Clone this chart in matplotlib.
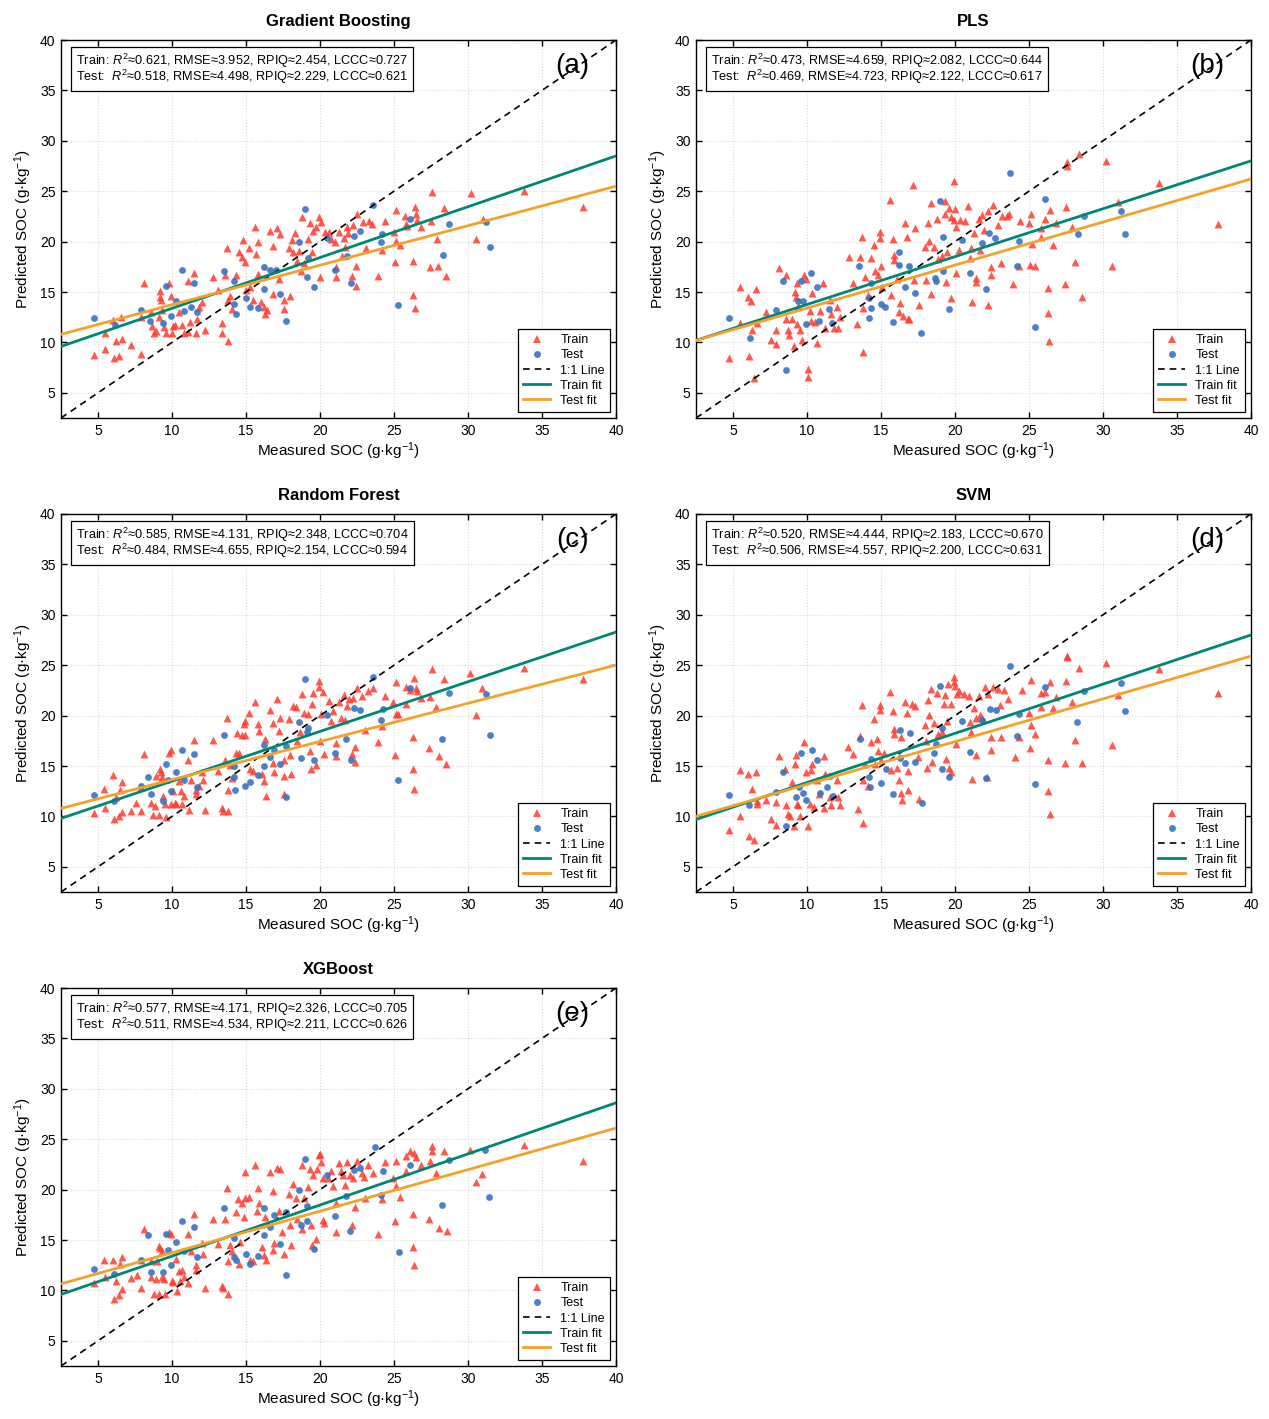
import numpy as np
import matplotlib
matplotlib.use("Agg")
import matplotlib.pyplot as plt
from matplotlib.lines import Line2D

plt.rcParams["font.family"] = ["Liberation Sans", "DejaVu Sans"]
plt.rcParams["mathtext.fontset"] = "custom"
plt.rcParams["mathtext.rm"] = "Liberation Sans"
plt.rcParams["mathtext.it"] = "Liberation Sans:italic"

# ---------------- data ----------------
titles = ["Gradient Boosting", "PLS", "Random Forest", "SVM", "XGBoost"]
tags = ["(a)", "(b)", "(c)", "(d)", "(e)"]

# R2, RMSE, RPIQ, LCCC
train_metrics = [(0.621, 3.952, 2.454, 0.727), (0.473, 4.659, 2.082, 0.644),
                 (0.585, 4.131, 2.348, 0.704), (0.520, 4.444, 2.183, 0.670),
                 (0.577, 4.171, 2.326, 0.705)]
test_metrics = [(0.518, 4.498, 2.229, 0.621), (0.469, 4.723, 2.122, 0.617),
                (0.484, 4.655, 2.154, 0.594), (0.506, 4.557, 2.200, 0.631),
                (0.511, 4.534, 2.211, 0.626)]

# fitted lines (slope, intercept)
train_fit = [(0.504, 8.34), (0.475, 9.01), (0.493, 8.57), (0.488, 8.48), (0.507, 8.33)]
test_fit = [(0.392, 9.82), (0.427, 9.13), (0.379, 9.85), (0.424, 8.94), (0.412, 9.62)]

gb_train = [(4.73,8.73),(5.45,10.97),(5.5,9.3),(6.03,12.2),(6.2,10.15),(6.1,8.5),(6.45,8.7),(6.53,12.5),(6.64,10.3),(7.2,9.7),
            (7.92,8.8),(8.1,15.9),(7.9,12.5),(8.55,13.0),(8.66,11.6),(8.8,10.9),(8.95,11.1),(9.1,12.5),(9.2,15.1),(9.2,14.5),
            (9.25,14.2),(9.35,13.2),(9.45,11.5),(9.6,10.9),(9.8,15.9),(9.9,14.6),(10.0,10.9),(10.08,11.6),(10.2,11.7),(10.5,13.0),
            (10.7,11.7),(10.8,10.9),(11.1,16.1),(11.1,11.0),(11.2,12.0),(11.5,16.9),(11.6,10.9),(11.7,12.3),(11.8,13.5),(12.0,14.0),
            (12.2,11.2),(12.8,16.5),(13.1,15.2),(13.4,11.9),(13.4,10.9),(13.6,16.7),(13.7,19.4),(13.8,14.2),(13.8,10.1),(13.9,14.6),
            (14.05,13.3),(14.35,16.7),(14.5,19.0),(14.7,18.5),(14.8,20.2),(14.9,18.0),(15.0,15.2),(15.2,19.4),(15.3,15.5),(15.45,14.2),
            (15.6,21.4),(15.7,18.8),(15.8,20.0),(15.8,16.8),(16.0,14.0),(16.2,13.5),(16.3,12.85),(16.4,13.2),(16.6,21.1),(16.8,19.6),
            (16.8,14.8),(17.1,21.3),(17.2,16.3),(17.3,20.8),(17.6,14.2),(17.6,13.3),(17.9,19.4),(18.0,14.6),(18.1,20.2),(18.2,19.0),
            (18.3,20.9),(18.45,18.1),(18.55,19.1),(18.7,17.1),(18.8,22.4),(18.9,17.9),(19.2,20.3),(19.3,21.8),(19.45,19.0),(19.5,21.1),
            (19.7,21.4),(19.9,22.4),(20.0,16.5),(20.1,21.9),(20.35,21.0),(20.6,21.0),(20.75,20.3),(21.0,20.0),(21.1,17.5),(21.1,16.5),
            (21.25,21.0),(21.5,18.6),(21.6,20.4),(21.7,19.5),(21.8,21.4),(21.9,20.9),(22.15,16.6),(22.25,21.6),(22.4,17.6),(22.4,15.6),
            (22.5,22.7),(22.9,21.9),(23.3,22.0),(23.1,19.4),(23.5,21.7),(23.95,16.6),(24.2,19.2),(24.4,22.0),(25.0,21.0),(25.05,18.0),
            (25.15,23.1),(25.15,20.1),(25.4,19.7),(25.75,22.5),(25.8,21.7),(25.9,21.5),(26.3,18.1),(26.4,23.4),(26.5,22.7),(26.55,22.1),
            (26.3,14.7),(26.4,13.4),(26.8,21.4),(27.4,17.5),(27.5,22.0),(27.6,24.9),(27.9,20.3),(28.0,17.6),(28.4,23.3),(28.5,16.6),
            (30.2,24.8),(30.55,20.3),(31.0,22.2),(33.8,25.0),(37.8,23.4)]
gb_test = [(4.73,12.43),(6.12,11.73),(7.92,13.2),(8.48,12.1),(9.38,11.9),(9.6,15.6),(9.9,12.6),(10.3,14.1),(10.7,17.2),(10.8,13.1),
           (11.3,13.5),(11.5,15.9),(11.7,13.0),(13.5,17.1),(14.2,16.1),(14.2,13.85),(14.3,12.8),(15.0,14.4),(15.3,13.5),(15.8,13.4),
           (16.2,17.5),(16.2,15.3),(16.6,17.2),(17.0,17.2),(17.3,14.8),(17.7,12.1),(19.0,23.2),(18.6,20.0),(19.2,18.4),(19.1,16.5),
           (19.6,15.5),(20.5,20.4),(21.0,17.2),(21.8,18.6),(22.1,15.9),(22.3,20.6),(22.7,21.1),(23.6,23.6),(24.2,20.8),(24.15,20.0),
           (25.3,13.7),(26.05,22.2),(28.3,18.7),(28.7,21.7),(31.2,21.9),(31.5,19.5)]

pls_train = [(4.75,8.5),(5.45,15.5),(5.5,11.9),(6.0,14.5),(6.2,14.1),(6.1,8.7),(6.25,11.2),(6.45,6.5),(6.55,15.3),(6.6,11.9),
             (7.25,13.0),(7.6,10.2),(7.9,9.8),(7.9,11.2),(8.1,17.4),(8.55,16.7),(8.6,12.3),(8.7,11.2),(8.8,10.7),(9.0,12.3),
             (9.1,9.6),(9.2,15.0),(9.25,14.5),(9.3,15.9),(9.3,11.8),(9.4,13.6),(9.55,11.2),(9.65,10.25),(9.8,16.7),(9.9,16.25),
             (10.05,7.4),(10.1,6.55),(10.2,13.15),(10.3,12.1),(10.35,14.9),(10.55,12.0),(10.7,9.9),(10.85,13.1),(11.1,15.9),(11.2,11.4),
             (11.55,14.2),(11.65,12.8),(11.8,11.4),(12.0,13.55),(12.1,11.4),(12.2,12.55),(12.85,18.5),(13.1,15.9),(13.4,11.8),(13.6,18.45),
             (13.7,20.5),(13.75,13.4),(13.8,9.05),(13.95,16.5),(14.1,14.7),(14.3,18.4),(14.5,19.65),(14.6,17.1),(14.8,16.65),(14.9,21.0),
             (14.9,20.4),(15.0,17.6),(15.1,15.5),(15.6,24.1),(15.7,14.7),(15.8,20.25),(15.85,18.65),(15.9,18.2),(16.1,16.25),(16.2,13.05),
             (16.3,13.9),(16.5,12.6),(16.65,21.8),(16.75,20.5),(16.8,12.3),(16.9,12.35),(17.15,25.65),(17.2,16.2),(17.3,21.35),(17.6,13.75),
             (17.95,19.5),(18.05,16.2),(18.2,21.8),(18.25,20.1),(18.4,23.85),(18.4,14.8),(18.6,19.5),(18.8,22.2),(18.85,18.3),(19.1,18.55),
             (19.3,22.7),(19.35,24.0),(19.4,16.0),(19.45,19.0),(19.6,23.35),(19.7,22.45),(19.75,14.4),(19.9,22.1),(19.95,26.0),(20.0,23.2),
             (20.1,21.4),(20.1,16.9),(20.25,19.2),(20.35,22.1),(20.65,22.05),(20.9,23.55),(21.0,18.4),(21.05,19.4),(21.15,14.0),(21.3,20.9),
             (21.4,16.35),(21.45,15.95),(21.6,22.2),(21.7,19.2),(21.85,22.6),(21.95,21.2),(22.2,23.0),(22.25,13.75),(22.45,17.5),(22.45,16.65),
             (22.55,23.6),(22.9,21.65),(23.2,22.55),(23.5,22.55),(23.65,22.7),(23.1,17.9),(23.95,15.75),(24.4,22.0),(24.3,17.6),(25.0,21.8),
             (25.05,17.7),(25.2,19.8),(25.4,17.6),(25.15,22.7),(25.8,20.5),(25.8,21.3),(26.05,22.2),(26.3,15.4),(26.3,12.9),(26.35,10.15),
             (26.4,23.1),(26.6,19.65),(26.8,21.8),(27.4,15.8),(27.5,23.4),(27.55,27.5),(27.6,27.85),(27.9,21.4),(28.1,18.0),(28.4,28.7),
             (28.6,14.5),(30.2,28.0),(30.6,17.6),(31.0,23.9),(33.8,25.8),(37.8,21.7)]
pls_test = [(4.73,12.43),(6.13,10.45),(7.9,13.2),(8.6,7.3),(8.4,16.05),(9.4,14.1),(9.7,14.15),(9.6,16.1),(9.9,11.8),(10.3,16.9),
            (10.7,15.5),(10.8,12.1),(11.5,13.3),(11.7,11.9),(13.5,17.6),(14.2,14.4),(14.2,12.4),(14.3,13.4),(14.3,15.9),(15.0,13.8),
            (15.3,13.5),(15.8,12.0),(16.2,19.0),(16.2,17.7),(16.6,15.5),(16.9,17.6),(17.3,14.9),(17.7,10.9),(18.65,16.4),(18.7,16.05),
            (19.0,24.0),(19.2,20.5),(19.2,17.1),(19.6,13.3),(20.5,20.2),(21.0,16.9),(21.8,19.85),(22.1,15.3),(22.3,20.9),(22.7,20.4),
            (23.7,26.8),(24.3,20.1),(24.2,17.6),(25.4,11.5),(26.1,24.2),(28.3,20.8),(28.7,22.5),(31.2,23.0),(31.5,20.8)]

rf_train = [(4.73,10.3),(5.4,12.7),(5.5,10.8),(6.0,14.1),(6.2,11.9),(6.1,9.75),(6.45,10.0),(6.6,13.45),(6.5,12.65),(6.6,10.4),
            (7.2,10.5),(7.6,11.3),(7.9,10.55),(7.9,12.9),(8.1,16.2),(8.6,11.3),(8.7,10.1),(8.85,11.0),(8.95,14.05),(9.1,10.1),
            (9.2,14.7),(9.25,14.4),(9.3,13.9),(9.4,12.05),(9.5,11.25),(9.6,9.9),(9.8,16.25),(9.9,16.6),(9.95,11.25),(10.1,12.55),
            (10.2,11.3),(10.3,11.25),(10.45,13.55),(10.6,12.55),(10.7,11.25),(10.8,12.05),(11.1,15.6),(11.15,10.6),(11.25,13.65),(11.5,17.6),
            (11.6,12.2),(11.65,12.6),(11.8,13.05),(12.0,14.4),(12.1,13.6),(12.2,10.6),(12.8,17.6),(13.1,14.55),(13.4,10.85),(13.45,10.5),
            (13.6,15.6),(13.7,19.75),(13.75,12.6),(13.8,10.5),(13.9,15.05),(14.05,13.8),(14.3,16.25),(14.4,18.25),(14.5,16.25),(14.7,18.1),
            (14.85,19.15),(14.9,19.5),(14.95,18.1),(15.2,20.3),(15.3,14.7),(15.5,14.55),(15.6,21.3),(15.8,19.2),(15.9,18.5),(16.05,14.2),
            (16.2,13.55),(16.25,17.7),(16.35,12.05),(16.6,20.6),(16.8,19.3),(16.8,15.25),(16.9,14.45),(17.1,21.65),(17.2,18.45),(17.3,19.8),
            (17.55,15.6),(17.6,14.05),(17.6,12.25),(17.9,19.65),(18.0,16.1),(18.05,14.2),(18.15,20.95),(18.35,20.85),(18.45,17.5),(18.65,18.4),
            (18.8,22.15),(18.9,20.25),(19.2,20.2),(19.3,16.5),(19.4,14.7),(19.45,21.2),(19.55,22.2),(19.7,15.05),(19.9,23.45),(19.95,22.8),
            (20.0,17.45),(20.1,20.2),(20.2,22.3),(20.25,16.2),(20.6,21.45),(20.75,19.5),(20.9,20.5),(21.05,15.95),(21.1,17.25),(21.25,21.3),
            (21.45,19.8),(21.6,22.0),(21.7,19.55),(21.8,20.95),(21.95,21.6),(22.15,16.2),(22.2,21.7),(22.35,16.9),(22.35,15.35),(22.5,22.7),
            (22.85,21.95),(23.25,22.45),(23.05,18.6),(23.55,22.7),(23.95,17.4),(24.2,19.0),(24.4,21.95),(24.95,21.3),(25.05,16.1),(25.15,23.3),
            (25.15,20.2),(25.3,20.15),(25.8,21.2),(25.8,22.8),(26.05,22.5),(26.3,17.85),(26.35,23.7),(26.5,22.7),(26.55,22.4),(26.3,14.75),
            (26.35,12.7),(26.8,21.75),(27.35,16.75),(27.45,21.8),(27.55,24.6),(27.85,20.9),(28.05,16.0),(28.35,23.6),(28.5,15.15),(30.15,24.2),
            (30.55,20.1),(30.95,22.7),(33.75,24.7),(37.8,23.65)]
rf_test = [(4.73,12.1),(6.1,11.5),(7.9,13.0),(8.4,13.9),(8.6,12.2),(9.4,11.5),(9.6,15.2),(9.7,13.65),(9.9,12.55),(10.3,14.4),
           (10.7,16.6),(10.8,13.6),(11.5,16.2),(11.7,12.9),(13.5,18.1),(14.2,15.0),(14.2,13.9),(14.25,12.6),(14.95,13.05),(15.3,13.4),
           (15.8,14.15),(16.2,17.1),(16.2,15.0),(16.6,15.9),(16.9,16.6),(17.3,15.2),(17.7,11.9),(17.7,17.0),(18.6,19.4),(18.7,15.8),
           (19.0,23.65),(19.1,18.4),(19.2,18.8),(19.6,15.55),(20.5,20.05),(21.0,16.25),(21.75,17.7),(22.1,15.55),(22.3,20.8),(22.7,20.6),
           (23.6,23.85),(24.25,20.7),(24.1,19.55),(25.3,13.6),(26.05,22.7),(28.25,17.7),(28.7,22.2),(31.2,22.1),(31.5,18.1)]

svm_train = [(4.75,8.7),(5.45,14.6),(5.5,10.0),(6.0,14.2),(6.1,8.1),(6.25,12.75),(6.45,7.7),(6.55,14.4),(6.65,11.25),(6.6,11.5),
             (7.25,11.65),(7.6,9.75),(7.9,9.1),(7.9,11.45),(8.1,16.0),(8.5,14.75),(8.6,11.1),(8.7,10.2),(8.85,10.0),(9.0,13.45),
             (9.1,9.05),(9.2,15.15),(9.25,16.1),(9.3,11.25),(9.4,11.1),(9.55,10.0),(9.8,17.4),(9.9,14.4),(10.05,9.05),(10.2,11.25),
             (10.3,14.65),(10.35,15.15),(10.5,10.9),(10.7,13.65),(10.8,12.25),(11.15,16.0),(11.2,14.25),(11.15,10.85),(11.55,11.95),(11.65,11.15),
             (12.0,13.65),(12.1,11.9),(12.25,11.1),(12.8,16.9),(13.1,16.2),(13.45,10.7),(13.6,18.0),(13.7,21.05),(13.75,13.65),(13.8,9.3),
             (13.95,15.15),(14.1,13.05),(14.3,17.4),(14.5,19.7),(14.6,15.2),(14.7,17.7),(14.8,16.5),(14.9,21.05),(14.9,20.55),(15.0,15.55),
             (15.2,16.25),(15.6,22.35),(15.7,14.65),(15.8,20.5),(15.85,18.65),(15.9,18.15),(16.05,14.8),(16.2,13.65),(16.35,17.85),(16.35,12.3),
             (16.45,11.65),(16.65,21.3),(16.75,20.3),(16.8,12.6),(16.85,14.55),(17.1,21.15),(17.3,21.0),(17.5,15.85),(17.6,11.75),(18.0,19.1),
             (18.05,17.5),(18.1,14.85),(18.2,21.55),(18.25,20.05),(18.4,22.6),(18.45,15.35),(18.55,19.3),(18.8,22.25),(18.85,18.15),(19.1,18.4),
             (19.25,21.15),(19.35,22.0),(19.4,15.7),(19.45,19.5),(19.55,23.1),(19.6,14.85),(19.7,21.2),(19.75,14.45),(19.9,23.3),(19.95,23.85),
             (20.0,22.95),(20.1,17.2),(20.15,22.15),(20.3,22.4),(20.6,22.15),(20.95,21.9),(21.0,19.4),(21.1,18.35),(21.15,13.7),(21.3,20.8),
             (21.4,19.8),(21.45,16.1),(21.6,21.9),(21.7,20.1),(21.8,19.8),(22.05,22.85),(22.15,13.9),(22.2,22.15),(22.4,17.9),(22.45,16.6),
             (22.6,22.85),(22.9,22.6),(23.05,21.05),(23.1,17.85),(23.3,22.5),(23.6,21.65),(24.05,15.9),(24.35,17.85),(24.5,22.5),(25.0,20.3),
             (25.05,16.75),(25.15,23.5),(25.15,19.1),(25.4,18.15),(25.8,22.25),(25.8,20.9),(26.1,22.35),(26.3,15.6),(26.3,12.55),(26.4,23.3),
             (26.4,10.25),(26.6,20.8),(26.8,21.8),(27.4,15.25),(27.5,23.45),(27.55,25.9),(27.6,25.8),(27.9,21.3),(28.1,17.6),(28.4,24.75),
             (28.6,15.25),(30.2,25.25),(30.6,17.1),(31.0,22.05),(33.8,24.65),(37.75,22.2)]
svm_test = [(4.73,12.1),(6.1,11.15),(7.9,12.4),(8.4,14.4),(8.6,9.05),(9.25,11.9),(9.45,12.9),(9.6,16.25),(9.7,12.35),(9.9,11.65),
            (10.35,16.55),(10.7,15.6),(10.85,12.3),(11.35,12.95),(11.55,14.05),(11.75,12.0),(13.55,17.7),(14.2,13.9),(14.25,12.9),(14.3,15.7),
            (15.0,13.3),(15.35,14.7),(15.8,12.2),(16.25,18.55),(16.25,15.8),(16.65,15.25),(16.95,18.25),(17.3,15.35),(17.75,11.3),(18.6,16.25),
            (18.7,17.2),(19.0,22.95),(19.15,18.8),(19.1,14.7),(19.6,13.9),(20.5,19.5),(21.0,16.35),(21.8,19.6),(22.1,13.8),(22.35,20.7),
            (22.75,20.55),(23.7,24.95),(24.3,20.2),(24.2,18.0),(25.4,13.2),(26.1,22.85),(28.25,19.4),(28.7,22.45),(31.2,23.2),(31.5,20.45)]

xgb_train = [(4.73,10.75),(5.4,13.05),(5.5,11.3),(6.0,13.05),(6.2,10.9),(6.1,9.1),(6.4,9.5),(6.6,13.3),(6.5,12.65),(6.65,10.1),
             (7.2,11.2),(7.65,11.5),(7.9,10.25),(7.9,13.05),(8.1,16.1),(8.55,12.95),(8.6,11.35),(8.75,9.6),(8.9,11.1),(9.0,12.95),
             (9.1,9.6),(9.15,14.45),(9.2,14.2),(9.3,13.9),(9.35,11.3),(9.45,11.1),(9.55,9.65),(9.8,15.8),(9.9,15.6),(10.0,10.95),
             (10.1,10.85),(10.25,13.15),(10.35,9.9),(10.45,11.9),(10.55,10.9),(10.7,12.05),(10.8,11.3),(11.05,15.6),(11.05,10.75),(11.25,13.9),
             (11.5,17.6),(11.6,12.5),(11.65,12.05),(12.0,14.7),(12.1,13.65),(12.2,10.25),(12.8,17.1),(13.1,14.6),(13.4,10.4),(13.45,10.25),
             (13.6,17.1),(13.7,20.2),(13.75,12.9),(13.8,9.6),(13.9,14.55),(14.05,13.9),(14.3,17.75),(14.45,19.1),(14.5,12.6),(14.6,14.85),
             (14.7,18.65),(14.85,17.25),(14.9,21.75),(14.95,19.2),(15.2,19.3),(15.3,13.05),(15.45,12.9),(15.6,22.45),(15.75,17.9),(15.8,20.15),
             (15.85,18.65),(16.05,14.3),(16.2,13.55),(16.25,17.25),(16.35,13.05),(16.6,21.7),(16.8,19.9),(16.8,14.05),(16.9,14.7),(17.1,22.15),
             (17.2,17.9),(17.3,22.05),(17.4,15.8),(17.6,13.6),(17.9,19.55),(18.0,16.5),(18.05,14.5),(18.15,20.55),(18.35,19.2),(18.45,17.1),
             (18.75,22.45),(18.8,16.1),(18.9,19.15),(19.2,20.3),(19.35,22.05),(19.4,16.5),(19.45,14.5),(19.5,21.4),(19.7,15.05),(19.8,22.0),
             (19.9,23.45),(20.0,23.5),(20.1,22.7),(20.2,17.0),(20.2,21.15),(20.25,16.7),(20.55,21.2),(20.75,21.8),(20.9,20.4),(21.05,15.8),
             (21.1,18.65),(21.3,22.6),(21.45,21.8),(21.55,21.4),(21.7,20.5),(21.8,22.7),(22.0,21.4),(22.15,16.5),(22.2,21.2),(22.35,18.25),
             (22.5,22.85),(22.85,21.65),(22.95,21.25),(23.25,22.45),(23.05,19.15),(23.55,21.65),(23.95,15.6),(24.2,19.1),(24.4,22.7),(24.95,21.15),
             (25.05,16.9),(25.15,22.85),(25.15,20.4),(25.4,19.3),(25.8,21.8),(25.8,23.3),(26.05,23.85),(26.3,17.55),(26.35,23.6),(26.5,23.2),
             (26.3,14.35),(26.35,12.5),(26.8,22.45),(27.35,17.1),(27.45,22.8),(27.55,24.3),(27.55,23.8),(27.85,21.65),(28.05,16.2),(28.35,23.8),
             (28.55,15.85),(30.15,23.9),(30.55,20.75),(30.95,21.55),(33.75,24.4),(37.8,22.8)]
xgb_test = [(4.73,12.1),(6.1,11.65),(7.9,13.0),(8.4,15.45),(8.6,11.85),(9.4,11.85),(9.6,15.55),(9.7,14.0),(9.9,12.55),(10.3,14.8),
            (10.7,16.85),(10.8,13.9),(11.5,16.25),(11.7,13.3),(13.5,18.15),(14.2,15.15),(14.2,13.3),(14.3,13.0),(15.0,13.6),(15.3,12.6),
            (15.8,13.4),(16.2,18.15),(16.2,15.45),(16.65,16.25),(16.9,17.5),(17.3,14.6),(17.7,11.55),(17.7,17.75),(18.6,19.95),(18.7,16.45),
            (19.0,23.05),(19.15,18.4),(19.1,16.85),(19.6,14.1),(20.5,21.4),(21.0,17.4),(21.75,19.4),(22.05,15.9),(22.3,21.95),(22.7,22.1),
            (23.7,24.2),(24.25,21.8),(24.1,19.5),(25.35,13.8),(26.05,22.45),(28.25,18.5),(28.7,22.95),(31.15,23.9),(31.45,19.3)]

train_sets = [gb_train, pls_train, rf_train, svm_train, xgb_train]
test_sets = [gb_test, pls_test, rf_test, svm_test, xgb_test]

# ---------------- styling ----------------
c_train = "#ff3b30"
c_test = "#3a72c0"
c_train_fit = "#008672"
c_test_fit = "#f2a22c"
lim = (2.5, 40)

W, H = 1269, 1419
fig = plt.figure(figsize=(W / 100, H / 100), dpi=100)
col_left = [61, 696]
row_top = [40, 514, 988]
aw, ah = 555, 378


def metric_line(label, m):
    return (f"{label}$R^2$≈{m[0]:.3f}, RMSE≈{m[1]:.3f}, "
            f"RPIQ≈{m[2]:.3f}, LCCC≈{m[3]:.3f}")


for i in range(5):
    r, c = divmod(i, 2)
    ax = fig.add_axes([col_left[c] / W, 1 - (row_top[r] + ah) / H, aw / W, ah / H])
    tr = np.array(train_sets[i])
    te = np.array(test_sets[i])
    ax.scatter(tr[:, 0], tr[:, 1], marker="^", s=32, color=c_train, alpha=0.85,
               linewidths=0, zorder=3)
    ax.scatter(te[:, 0], te[:, 1], marker="o", s=24, color=c_test, alpha=0.9,
               linewidths=0, zorder=3)
    xs = np.array(lim)
    ax.plot(xs, xs, "--", color="black", lw=1.2, dashes=(4, 3), zorder=4)
    ax.plot(xs, train_fit[i][0] * xs + train_fit[i][1], color=c_train_fit, lw=2, zorder=4)
    ax.plot(xs, test_fit[i][0] * xs + test_fit[i][1], color=c_test_fit, lw=2, zorder=4)

    ax.set_xlim(lim)
    ax.set_ylim(lim)
    ax.set_xticks(range(5, 41, 5))
    ax.set_yticks(range(5, 41, 5))
    ax.tick_params(direction="in", top=True, right=True, length=4, width=1,
                   labelsize=10, pad=4)
    ax.grid(True, color="#d9d9d9", linestyle=":", linewidth=0.8)
    ax.set_axisbelow(True)
    for sp in ax.spines.values():
        sp.set_linewidth(1.0)
    ax.set_title(titles[i], fontsize=12, fontweight="bold", pad=10)
    ax.set_xlabel("Measured SOC (g·kg$^{-1}$)", fontsize=11, labelpad=2)
    ax.set_ylabel("Predicted SOC (g·kg$^{-1}$)", fontsize=11, labelpad=4)

    txt = metric_line("Train: ", train_metrics[i]) + "\n" + metric_line("Test:  ", test_metrics[i])
    ax.text(0.027, 0.968, txt, transform=ax.transAxes, ha="left", va="top",
            fontsize=9.2, linespacing=0.82, zorder=6,
            bbox=dict(boxstyle="square,pad=0.4", fc="white", ec="black", lw=0.9))
    ax.text(0.922, 0.93, tags[i], transform=ax.transAxes, ha="center", va="center",
            fontsize=20, zorder=6)

    handles = [
        Line2D([], [], marker="^", ls="none", color=c_train, alpha=0.85, markersize=6, markeredgewidth=0),
        Line2D([], [], marker="o", ls="none", color=c_test, alpha=0.9, markersize=5, markeredgewidth=0),
        Line2D([], [], ls="--", color="black", lw=1.2, dashes=(4, 3)),
        Line2D([], [], color=c_train_fit, lw=2),
        Line2D([], [], color=c_test_fit, lw=2),
    ]
    leg = ax.legend(handles, ["Train", "Test", "1:1 Line", "Train fit", "Test fit"],
                    loc="lower right", fontsize=9, fancybox=False, framealpha=1,
                    edgecolor="black", handlelength=2.2, handletextpad=0.8,
                    labelspacing=0.25, borderpad=0.4, borderaxespad=0.5)
    leg.get_frame().set_linewidth(0.9)
    leg.set_zorder(7)

fig.savefig("out.png", dpi=100)
